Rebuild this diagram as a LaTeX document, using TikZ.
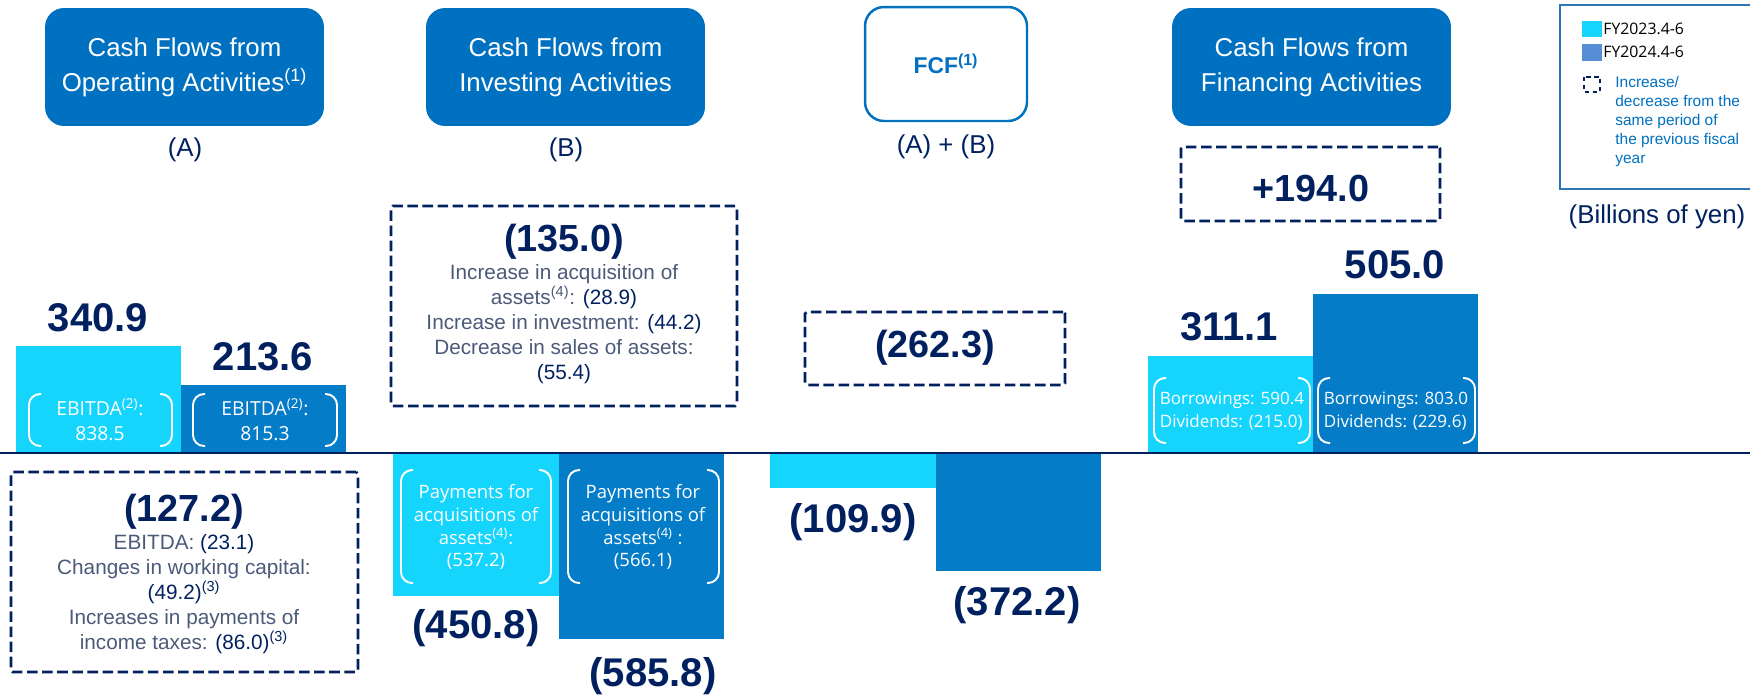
\documentclass[tikz,border=0pt]{standalone}
\usepackage{fontspec}
\setmainfont{Liberation Sans}
\newfontfamily\uifont{Open Sans}

\definecolor{cfcyan}{HTML}{15D5FD}
\definecolor{cfblue}{HTML}{047CC8}
\definecolor{cfhead}{HTML}{0070C0}
\definecolor{cfnavy}{HTML}{002060}
\definecolor{cfslate}{HTML}{4A5A78}
\definecolor{cflegblue}{HTML}{558ED5}
\definecolor{cfframe}{HTML}{2E75B6}

\tikzset{
  head/.style={fill=cfhead, rounded corners=0.38cm, minimum width=5.58cm,
    minimum height=2.36cm, inner sep=0, text=white, align=center,
    font=\fontsize{14.7}{19.8}\selectfont},
  tag/.style={inner sep=0, text=cfnavy, font=\fontsize{14.7}{17}\selectfont},
  num/.style={inner sep=0, text=cfnavy, font=\bfseries\fontsize{22.8}{26}\selectfont},
  diffbox/.style={draw=cfnavy, line width=1.5pt, dash pattern=on 6pt off 2.6pt,
    rounded corners=1pt, inner sep=0},
  note/.style={inner sep=0, text=cfnavy, align=center,
    font=\fontsize{11.8}{14.2}\selectfont},
  barnote/.style={inner sep=0, text=white, align=center,
    font=\uifont\fontsize{10.5}{13}\selectfont},
  lgtext/.style={inner sep=0, anchor=west, font=\uifont\fontsize{9}{10}\selectfont},
  bracket/.style={white, line width=1.1pt, rounded corners=0.22cm}
}
\newcommand{\lbl}[1]{\textcolor{cfslate}{#1}}
% white round brackets inside a bar: left, right, top, bottom
\newcommand{\bkt}[4]{%
  \draw[bracket] (#1+12,#3) -- (#1,#3) -- (#1,#4) -- (#1+12,#4);
  \draw[bracket] (#2-12,#3) -- (#2,#3) -- (#2,#4) -- (#2-12,#4);}

\begin{document}
\begin{tikzpicture}[x=0.02cm, y=-0.02cm]
  \useasboundingbox (0,0) rectangle (1750,698);
  \clip (0,0) rectangle (1750,698);

  % headers
  \node[head] (op) at (184.5,67) {Cash Flows from\\Operating Activities\textsuperscript{(1)}};
  \node[head] (inv) at (565.5,67) {Cash Flows from\\Investing Activities};
  \node[head, fill=white, draw=cfhead, line width=1.4pt, minimum width=3.24cm,
    minimum height=2.28cm, text=cfhead, font=\bfseries\fontsize{13}{15}\selectfont]
    (fcf) at (946,64) {FCF\textsuperscript{(1)}};
  \node[head] (fin) at (1311.5,67) {Cash Flows from\\Financing Activities};
  \node[tag] (tA) at (185,150) {(A)};
  \node[tag] (tB) at (566,150) {(B)};
  \node[tag] (tAB) at (946,147) {(A) + (B)};

  % bars
  \fill[cfcyan] (16,346) rectangle (181,453);
  \fill[cfblue] (181,385) rectangle (346,453);
  \fill[cfcyan] (393,453) rectangle (559,596);
  \fill[cfblue] (559,453) rectangle (724,639);
  \fill[cfcyan] (770,453) rectangle (936,488);
  \fill[cfblue] (936,453) rectangle (1101,571);
  \fill[cfcyan] (1148,356) rectangle (1313,453);
  \fill[cfblue] (1313,294) rectangle (1478,453);
  \draw[cfnavy, line width=1.4pt] (0,453) -- (1750,453);

  % bar values
  \node[num] (v1) at (98,318) {340.9};
  \node[num] (v2) at (263,357) {213.6};
  \node[num] (v3) at (476,628) {(450.8)};
  \node[num] (v4) at (653,676) {(585.8)};
  \node[num] (v5) at (853,522) {(109.9)};
  \node[num] (v6) at (1017,605) {(372.2)};
  \node[num] (v7) at (1229,327) {311.1};
  \node[num] (v8) at (1395,265) {505.0};

  % notes inside bars
  \bkt{29}{172}{394}{446}
  \bkt{193}{337}{394}{446}
  \node[barnote, font=\uifont\fontsize{11}{14.2}\selectfont] (e1) at (100,420) {EBITDA\textsuperscript{(2)}:\\838.5};
  \node[barnote, font=\uifont\fontsize{11}{14.2}\selectfont] (e2) at (265,420) {EBITDA\textsuperscript{(2)}:\\815.3};
  \bkt{401}{551}{470}{583}
  \bkt{568}{719}{470}{583}
  \node[barnote] (p1) at (476,527) {Payments for\\acquisitions of\\assets\textsuperscript{(4)}:\\(537.2)};
  \node[barnote] (p2) at (643,527) {Payments for\\acquisitions of\\assets\textsuperscript{(4)} :\\(566.1)};
  \bkt{1154}{1310}{378}{443}
  \bkt{1318}{1475}{378}{443}
  \node[barnote, align=left, font=\uifont\fontsize{9.7}{13}\selectfont] (b1) at (1232,411)
    {Borrowings: 590.4\\Dividends: (215.0)};
  \node[barnote, align=left, font=\uifont\fontsize{9.7}{13}\selectfont] (b2) at (1396,411)
    {Borrowings: 803.0\\Dividends: (229.6)};

  % increase / decrease boxes
  \node[diffbox, minimum width=6.94cm, minimum height=4cm] (dop) at (184.5,572) {};
  \node[num, font=\bfseries\fontsize{21.5}{26}\selectfont] (dop1) at (184,512) {(127.2)};
  \node[note] (dop2) at (184,594) {\lbl{EBITDA:} (23.1)\\\lbl{Changes in working capital:}\\
    (49.2)\textsuperscript{(3)}\\\lbl{Increases in payments of}\\
    \lbl{income taxes:} (86.0)\textsuperscript{(3)}};
  \node[diffbox, minimum width=6.92cm, minimum height=4cm] (dinv) at (564,306) {};
  \node[num, font=\bfseries\fontsize{21.5}{26}\selectfont] (dinv1) at (564,242) {(135.0)};
  \node[note] (dinv2) at (564,324) {\lbl{Increase in acquisition of}\\
    \lbl{assets\textsuperscript{(4)}:} (28.9)\\\lbl{Increase in investment:} (44.2)\\
    \lbl{Decrease in sales of assets:}\\(55.4)};
  \node[diffbox, minimum width=5.2cm, minimum height=1.46cm] (dfcf) at (935,348.5) {};
  \node[num, font=\bfseries\fontsize{21.5}{26}\selectfont] (dfcf1) at (935,348) {(262.3)};
  \node[diffbox, minimum width=5.18cm, minimum height=1.48cm] (dfin) at (1310.5,184) {};
  \node[num, font=\bfseries\fontsize{21.5}{26}\selectfont] (dfin1) at (1311,188) {+194.0};

  % legend (runs past the right edge)
  \node[draw=cfframe, line width=1.2pt, minimum width=4.6cm, minimum height=3.68cm,
    inner sep=0] (leg) at (1675,97) {};
  \fill[cfcyan] (1582,21) rectangle (1602,37);
  \fill[cflegblue] (1582,44) rectangle (1602,61);
  \draw[cfnavy, line width=1.6pt, dash pattern=on 2.5pt off 2pt] (1584,77) rectangle (1600,92);
  \node[lgtext] (l1) at (1603,29) {FY2023.4-6};
  \node[lgtext] (l2) at (1603,52) {FY2024.4-6};
  \node[lgtext, align=left, text=cfhead, font=\fontsize{8.8}{10.9}\selectfont] (l3) at (1615,121.5)
    {Increase/\\decrease from the\\same period of\\the previous fiscal\\year};
  \node[tag] (unit) at (1657,217) {(Billions of yen)};
\end{tikzpicture}
\end{document}
